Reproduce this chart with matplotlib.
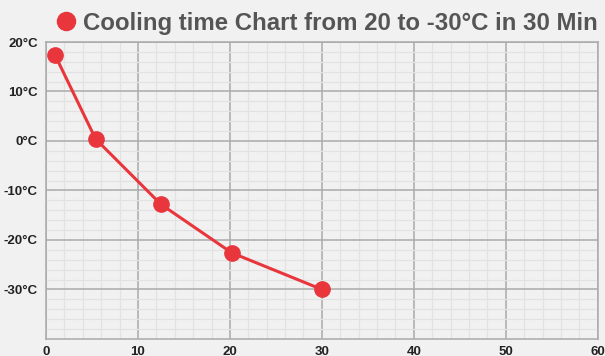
import matplotlib.pyplot as plt
from matplotlib import font_manager as fm
from matplotlib.lines import Line2D
from matplotlib.ticker import MultipleLocator

# pick the regular-width Liberation Sans (not Narrow)
bold_file = None
for f in fm.fontManager.ttflist:
    if f.fname.endswith("LiberationSans-Bold.ttf"):
        bold_file = f.fname
bold = fm.FontProperties(fname=bold_file) if bold_file else fm.FontProperties(family="DejaVu Sans", weight="bold")

# data
minutes = [1, 5.4, 12.5, 20.2, 30]
temps = [17.3, 0.4, -12.8, -22.6, -30]
y_ticks = [20, 10, 0, -10, -20, -30]
y_labels = [f"{t}°C" for t in y_ticks]
x_ticks = [0, 10, 20, 30, 40, 50, 60]
title = "Cooling time Chart from 20 to -30°C in 30 Min"

red = "#e8363c"
bg = "#f1f1f1"

fig = plt.figure(figsize=(6.05, 3.56), dpi=100, facecolor=bg)
ax = fig.add_axes([0.076, 0.048, 0.912, 0.834])
ax.set_facecolor(bg)

ax.plot(minutes, temps, color=red, lw=2.2, marker="o", markersize=11, zorder=3)

ax.set_xlim(0, 60)
ax.set_ylim(-40, 20)
ax.set_xticks(x_ticks)
ax.set_yticks(y_ticks)
ax.set_yticklabels(y_labels)
ax.xaxis.set_minor_locator(MultipleLocator(2))
ax.yaxis.set_minor_locator(MultipleLocator(2))
ax.grid(which="major", color="#aaaaaa", lw=1.1)
ax.grid(which="minor", color="#e2e2e2", lw=0.9)
ax.set_axisbelow(True)
for s in ax.spines.values():
    s.set_color("#aaaaaa")
    s.set_linewidth(1.1)
ax.tick_params(which="both", length=0)
ax.tick_params(axis="y", colors="#222222", pad=6)
ax.tick_params(axis="x", colors="#222222", pad=5)
for lab in ax.get_xticklabels() + ax.get_yticklabels():
    lab.set_fontproperties(bold)
    lab.set_fontsize(9.5)

# legend-style title
tprop = bold.copy()
tprop.set_size(17.3)
handle = Line2D([], [], color=red, marker="o", linestyle="none", markersize=13)
fig.legend([handle], [title], loc="center", bbox_to_anchor=(0.538, 0.935),
           frameon=False, handletextpad=0.2, handlelength=1.0,
           prop=tprop, labelcolor="#555555")

fig.savefig("out.png", dpi=100, facecolor=bg)
